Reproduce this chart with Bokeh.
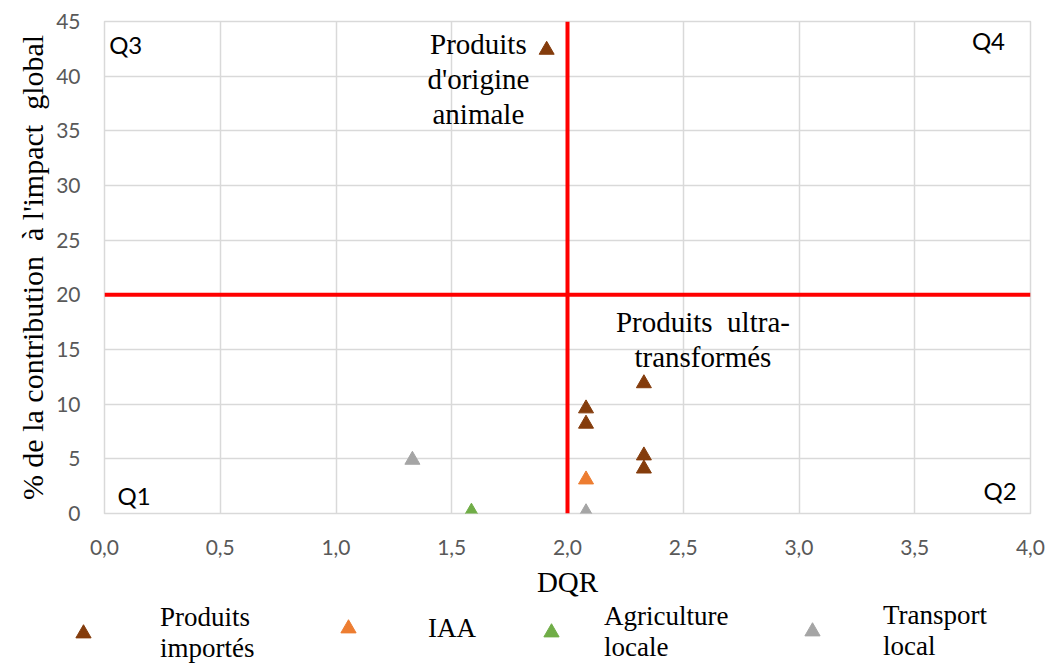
from bokeh.plotting import figure
from bokeh.layouts import column
from bokeh.models import Range1d, FixedTicker, Span, Label, Legend, LegendItem
from bokeh.embed import file_html
from bokeh.resources import INLINE

# ---- data ----
imp_x = [1.91, 2.08, 2.08, 2.33, 2.33, 2.33]
imp_y = [42.4, 9.6, 8.2, 11.9, 5.3, 4.1]
iaa_x = [2.08]
iaa_y = [3.1]
agr_x = [1.585]
agr_y = [0.15]
tra_x = [1.33, 2.08]
tra_y = [4.9, 0.1]

series_names = ["Produits\nimportés", "IAA", "Agriculture\nlocale", "Transport\nlocal"]
series_colors = ["#843C0C", "#ED7D31", "#70AD47", "#A5A5A5"]

x_ticks = [0, 0.5, 1, 1.5, 2, 2.5, 3, 3.5, 4]
x_tick_labels = ["0,0", "0,5", "1,0", "1,5", "2,0", "2,5", "3,0", "3,5", "4,0"]
y_ticks = [0, 5, 10, 15, 20, 25, 30, 35, 40, 45]

dqr_threshold = 2.0
impact_threshold = 20.0

SERIF = "Liberation Serif"
SANS = "Lato"
NB = "\u00a0"

p = figure(width=1047, height=600, output_backend="svg", toolbar_location=None,
           x_range=Range1d(0, 4), y_range=Range1d(0, 45),
           min_border_left=104, min_border_right=17, min_border_top=21,
           min_border_bottom=87)
p.frame_align = False
p.outline_line_color = "#d9d9d9"
p.outline_line_width = 1.5

for ax in (p.xaxis, p.yaxis):
    ax.axis_line_color = None
    ax.major_tick_line_color = None
    ax.minor_tick_line_color = None
    ax.major_tick_out = 0
    ax.major_label_text_font = SANS
    ax.major_label_text_font_size = "21px"
    ax.major_label_text_color = "#595959"
    ax.axis_label_text_font = SERIF
    ax.axis_label_text_font_style = "normal"
    ax.axis_label_text_color = "#000000"

p.xaxis.ticker = FixedTicker(ticks=x_ticks)
p.xaxis.major_label_overrides = {t: l for t, l in zip(x_ticks, x_tick_labels)}
p.yaxis.ticker = FixedTicker(ticks=y_ticks)
p.xaxis.major_label_standoff = 26
p.yaxis.major_label_standoff = 24
p.xaxis.axis_label = "DQR"
p.yaxis.axis_label = "% de la contribution" + NB + " à l'impact" + NB + " global"
p.xaxis.axis_label_text_font_size = "29px"
p.yaxis.axis_label_text_font_size = "30px"
p.xaxis.axis_label_standoff = 8
p.yaxis.axis_label_standoff = 4

p.xgrid.grid_line_color = "#d9d9d9"
p.ygrid.grid_line_color = "#d9d9d9"
p.xgrid.grid_line_width = 1.5
p.ygrid.grid_line_width = 1.5

# threshold lines
p.add_layout(Span(location=dqr_threshold, dimension="height", line_color="#ff0000", line_width=4))
p.add_layout(Span(location=impact_threshold, dimension="width", line_color="#ff0000", line_width=4))

series_x = [imp_x, iaa_x, agr_x, tra_x]
series_y = [imp_y, iaa_y, agr_y, tra_y]
for xs, ys, c in zip(series_x, series_y, series_colors):
    p.scatter(x=xs, y=ys, marker="triangle", size=15, fill_color=c, line_color=c)

# quadrant labels
for txt, x, y, align in [("Q3", 0.02, 42.9, "left"), ("Q4", 3.89, 43.3, "right"),
                         ("Q1", 0.056, 1.65, "left"), ("Q2", 3.94, 2.1, "right")]:
    p.add_layout(Label(x=x, y=y, text=txt, text_font=SANS, text_font_size="24px",
                       text_align=align, text_baseline="middle", text_color="#000000"))

# annotations
p.add_layout(Label(x=1.615, y=44.4, text="Produits\nd'origine\nanimale", text_font=SERIF,
                   text_font_size="29px", text_align="center", text_baseline="top",
                   text_line_height=1.1, text_color="#000000"))
p.add_layout(Label(x=2.585, y=19.0, text="Produits" + NB + " ultra-\ntransformés", text_font=SERIF,
                   text_font_size="29px", text_align="center", text_baseline="top",
                   text_line_height=1.1, text_color="#000000"))

# ---- legend strip below the chart ----
lg = figure(width=1047, height=64, output_backend="svg", toolbar_location=None,
            x_range=Range1d(100, 101), y_range=Range1d(100, 101),
            x_axis_location=None, y_axis_location=None,
            min_border_left=0, min_border_right=0, min_border_top=0, min_border_bottom=0)
lg.frame_align = False
lg.xgrid.visible = False
lg.ygrid.visible = False
lg.outline_line_color = None

leg_locs = [(64, 0), (329, 17), (532, 1), (793, 2)]
leg_standoffs = [58, 61, 34, 52]
for name, xs, ys, c, loc, so in zip(series_names, series_x, series_y, series_colors,
                                    leg_locs, leg_standoffs):
    r = lg.scatter(x=xs, y=ys, marker="triangle", size=15, fill_color=c, line_color=c)
    leg = Legend(items=[LegendItem(label=name, renderers=[r])], location=loc,
                 orientation="horizontal", padding=0, margin=0,
                 background_fill_alpha=0, border_line_alpha=0,
                 label_text_font=SERIF, label_text_font_size="27px",
                 label_text_line_height=1.2, label_text_color="#000000",
                 label_standoff=so, glyph_width=38, glyph_height=38)
    lg.add_layout(leg)

open("out.html", "w").write(file_html(column(p, lg, spacing=0), INLINE))
